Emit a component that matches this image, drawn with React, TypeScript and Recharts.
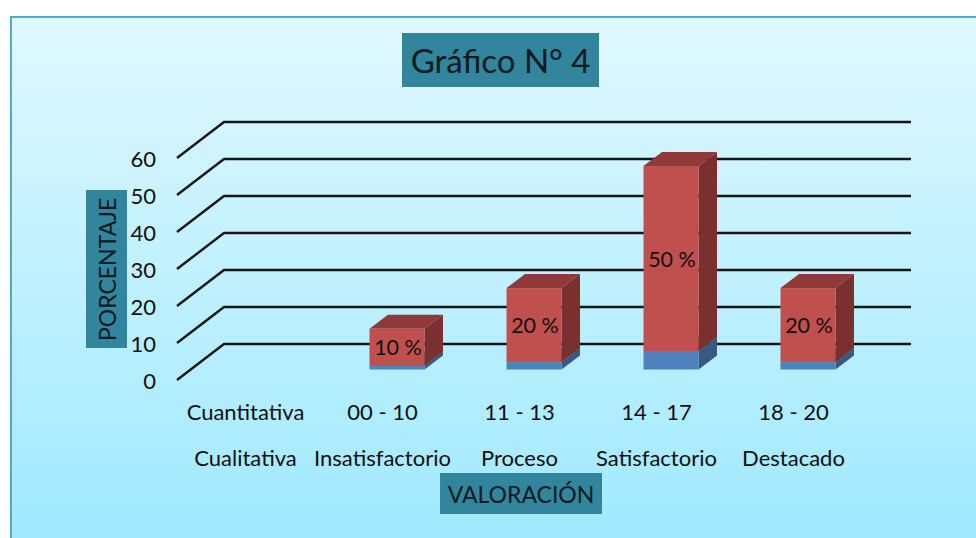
import { BarChart, Bar, XAxis, YAxis, CartesianGrid, LabelList } from 'recharts'

const FONT = 'Lato, sans-serif'

const ranges = ['Cuantitativa', '00 - 10', '11 - 13', '14 - 17', '18 - 20']
const levels = ['Cualitativa', 'Insatisfactorio', 'Proceso', 'Satisfactorio', 'Destacado']
const blueValues = [null, 1, 2, 5, 2]
const redValues = [null, 10, 20, 50, 20]
const yTicks = [0, 10, 20, 30, 40, 50, 60]

const data = ranges.map((range, i) => ({
    range,
    level: levels[i],
    blue: blueValues[i],
    red: redValues[i],
}))

// the bars stand half way into the floor of the 3D box
const BAR_DX = 13.5
const BAR_DY = -10.5
const DEPTH_X = 18.5
const DEPTH_Y = 14

const makeBox = (front: string, side: string, top: string) => (props: any) => {
    const { x, y, width, height } = props
    if (!height) return <g />
    const l = x + BAR_DX
    const r = l + width
    const t = y + BAR_DY
    const b = t + height
    return (
        <g>
            <polygon points={`${l},${t} ${l + DEPTH_X},${t - DEPTH_Y} ${r + DEPTH_X},${t - DEPTH_Y} ${r},${t}`} fill={top} />
            <polygon points={`${r},${t} ${r + DEPTH_X},${t - DEPTH_Y} ${r + DEPTH_X},${b - DEPTH_Y} ${r},${b}`} fill={side} />
            <rect x={l} y={t} width={width} height={height} fill={front} />
        </g>
    )
}

const GridLine = (props: any) => {
    const { x1, y1, x2 } = props
    return (
        <path
            d={`M${x1 - 1},${y1} L${x1 + 46},${y1 - 36} L${x2 + 48},${y1 - 36}`}
            fill="none"
            stroke="#161616"
            strokeWidth={2.4}
        />
    )
}

const CategoryTick = (props: any) => {
    const { x, y, payload } = props
    return (
        <g fontFamily={FONT} fontSize={22} fill="#111">
            <text x={x - 1} y={y + 32} textAnchor="middle">{ranges[payload.index]}</text>
            <text x={x - 1} y={y + 78} textAnchor="middle">{levels[payload.index]}</text>
        </g>
    )
}

const PercentLabel = (props: any) => {
    const { x, y, width, height, value } = props
    if (value == null) return null
    return (
        <text
            x={x + width / 2 + BAR_DX + 1}
            y={y + height / 2 + BAR_DY}
            textAnchor="middle"
            dominantBaseline="central"
            fontFamily={FONT}
            fontSize={21.5}
            fill="#111"
        >
            {value} %
        </text>
    )
}

const boxStyle = {
    position: 'absolute',
    background: '#31859c',
    color: '#0d1a20',
    fontFamily: FONT,
    display: 'flex',
    alignItems: 'center',
    justifyContent: 'center',
} as const

export default function App() {
    return (
        <div style={{ position: 'absolute', left: 0, top: 0, width: 976, height: 538, background: '#fff', overflow: 'hidden' }}>
            <div
                style={{
                    position: 'absolute',
                    left: 10,
                    top: 16,
                    width: 966,
                    height: 522,
                    boxSizing: 'border-box',
                    borderLeft: '2px solid #4bacc6',
                    borderTop: '2px solid #4bacc6',
                    background: 'linear-gradient(#e0f8ff, #a0e9ff)',
                }}
            />
            <div style={{ position: 'absolute', left: 0, top: 0 }}>
                <BarChart
                    width={976}
                    height={538}
                    data={data}
                    barSize={55}
                    margin={{ top: 158, right: 113, bottom: 58, left: 128 }}
                >
                    <CartesianGrid horizontal={GridLine} vertical={false} />
                    <XAxis
                        dataKey="range"
                        axisLine={false}
                        tickLine={false}
                        height={100}
                        interval={0}
                        tick={CategoryTick}
                    />
                    <YAxis
                        domain={[0, 60]}
                        ticks={yTicks}
                        width={50}
                        axisLine={false}
                        tickLine={false}
                        tickSize={0}
                        tickMargin={22}
                        tick={{ fill: '#111', fontSize: 22, fontFamily: FONT, dy: 1 }}
                    />
                    <Bar dataKey="blue" stackId="a" isAnimationActive={false} shape={makeBox('#4f81bd', '#365a84', '#365a84')} />
                    <Bar dataKey="red" stackId="a" isAnimationActive={false} shape={makeBox('#c0504d', '#7a302e', '#8f3a38')}>
                        <LabelList dataKey="red" content={PercentLabel} />
                    </Bar>
                </BarChart>
            </div>
            <div style={{ ...boxStyle, left: 402, top: 33, width: 197, height: 54, fontSize: 33 }}>Gráfico N° 4</div>
            <div style={{ ...boxStyle, left: 86, top: 190, width: 41, height: 158, fontSize: 23, writingMode: 'vertical-rl', transform: 'rotate(180deg)' }}>PORCENTAJE</div>
            <div style={{ ...boxStyle, left: 440, top: 473, width: 162, height: 41, fontSize: 23 }}>VALORACIÓN</div>
        </div>
    )
}
